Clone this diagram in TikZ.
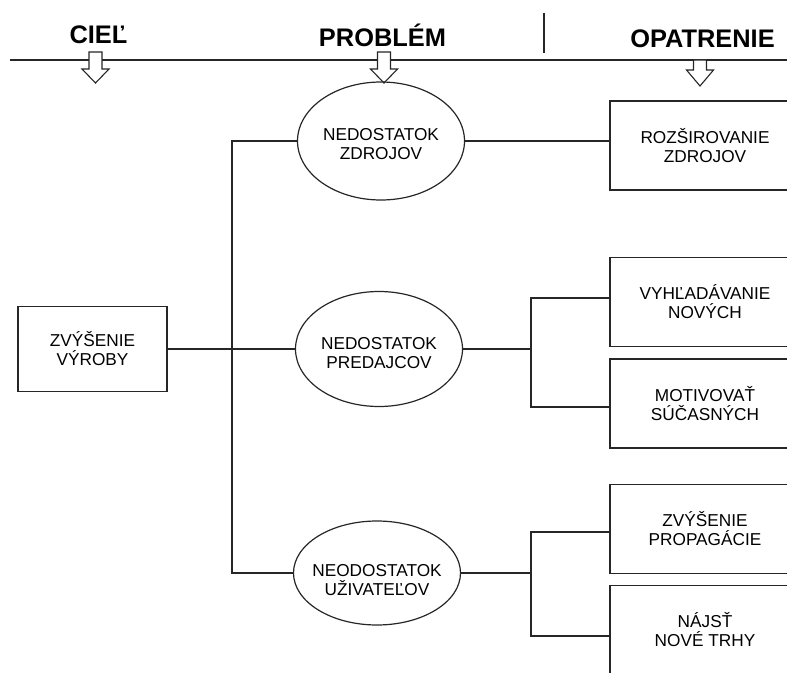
\documentclass[tikz,border=0pt]{standalone}
\usepackage{fontspec}
\setmainfont{Liberation Sans}
\usetikzlibrary{shapes.geometric,calc}
\definecolor{ink}{HTML}{262626}
\begin{document}
\begin{tikzpicture}[x=1bp,y=-1bp,
  link/.style={draw=ink, line width=1.2bp},
  header/.style={anchor=base, inner sep=0pt, font=\fontsize{25.5}{27}\selectfont\bfseries},
  txt/.style={align=center, inner sep=0pt, font=\fontsize{17.3}{19}\selectfont},
  goalbox/.style={txt, draw=ink, line width=1.2bp, rectangle, minimum width=149bp, minimum height=85bp},
  actbox/.style={txt, draw=ink, line width=1.2bp, rectangle, minimum width=190bp, minimum height=89bp},
  problem/.style={draw=ink, line width=1.2bp, ellipse, inner sep=0pt, minimum width=167bp},
  blockarrow/.style={draw=ink, line width=1.1bp, fill=white, line join=miter}
]
\useasboundingbox (0,0) rectangle (787,673);
\begin{scope}
\clip (0,0) rectangle (787,673);

% column headers and rule
\node[header] (hgoal) at (98.5,44) {CIEĽ};
\node[header] (hprob) at (382.5,47) {PROBLÉM};
\node[header] (hact)  at (702.5,48) {OPATRENIE};
\coordinate (ruleL) at (10,60);
\coordinate (ruleR) at (787,60);
\draw[link] (ruleL) -- (ruleR);
\coordinate (sepT) at (544,13);
\coordinate (sepB) at (544,53);
\draw[link] (sepT) -- (sepB);

% hollow down arrows under the headers
\draw[blockarrow] (89,52) -- (102,52) -- (102,69) -- (109,69) -- (95.5,83)
  -- (82,69) -- (89,69) -- cycle;
\draw[blockarrow] (377.5,52) -- (390.5,52) -- (390.5,69) -- (397.5,69) -- (384,83)
  -- (370.5,69) -- (377.5,69) -- cycle;
\draw[blockarrow] (693.5,60) -- (706.5,60) -- (706.5,70) -- (713.5,70) -- (700,86)
  -- (686.5,70) -- (693.5,70) -- cycle;

% goal
\node[goalbox] (goal) at (92.5,349) {ZVÝŠENIE\\VÝROBY};

% problems
\node[problem, minimum height=118bp] (e1) at (381,141) {};
\node[txt] (e1t) at (381,144) {NEDOSTATOK\\ZDROJOV};
\node[problem, minimum height=115bp] (e2) at (379,349) {};
\node[txt] (e2t) at (379,353) {NEDOSTATOK\\PREDAJCOV};
\node[problem, minimum height=104bp] (e3) at (377,573) {};
\node[txt] (e3t) at (377,580) {NEODOSTATOK\\UŽIVATEĽOV};

% measures
\node[actbox] (b1) at (705,145.5) {ROZŠIROVANIE\\ZDROJOV};
\node[actbox] (b2) at (705,302) {VYHĽADÁVANIE\\NOVÝCH};
\node[actbox] (b3) at (705,403.5) {MOTIVOVAŤ\\SÚČASNÝCH};
\node[actbox] (b4) at (705,529) {ZVÝŠENIE\\PROPAGÁCIE};
\node[actbox] (b5) at (705,630) {NÁJSŤ\\NOVÉ TRHY};

% goal -> problems
\coordinate (t1) at (232,141);
\coordinate (t3) at (232,573);
\draw[link] (e1.west) -- (t1) -- (t3) -- (e3.west);
\draw[link] (goal.east) -- (e2.west);

% problems -> measures
\draw[link] (e1.east) -- (e1.east -| b1.west);
\coordinate (f2) at (531,349);
\coordinate (f3) at (531,573);
\draw[link] (e2.east) -- (f2);
\draw[link] ($(b2.west)+(0,-4)$) -| (f2) |- ($(b3.west)+(0,3.5)$);
\draw[link] (e3.east) -- (f3);
\draw[link] ($(b4.west)+(0,3)$) -| (f3) |- ($(b5.west)+(0,6)$);
\end{scope}
\end{tikzpicture}
\end{document}
